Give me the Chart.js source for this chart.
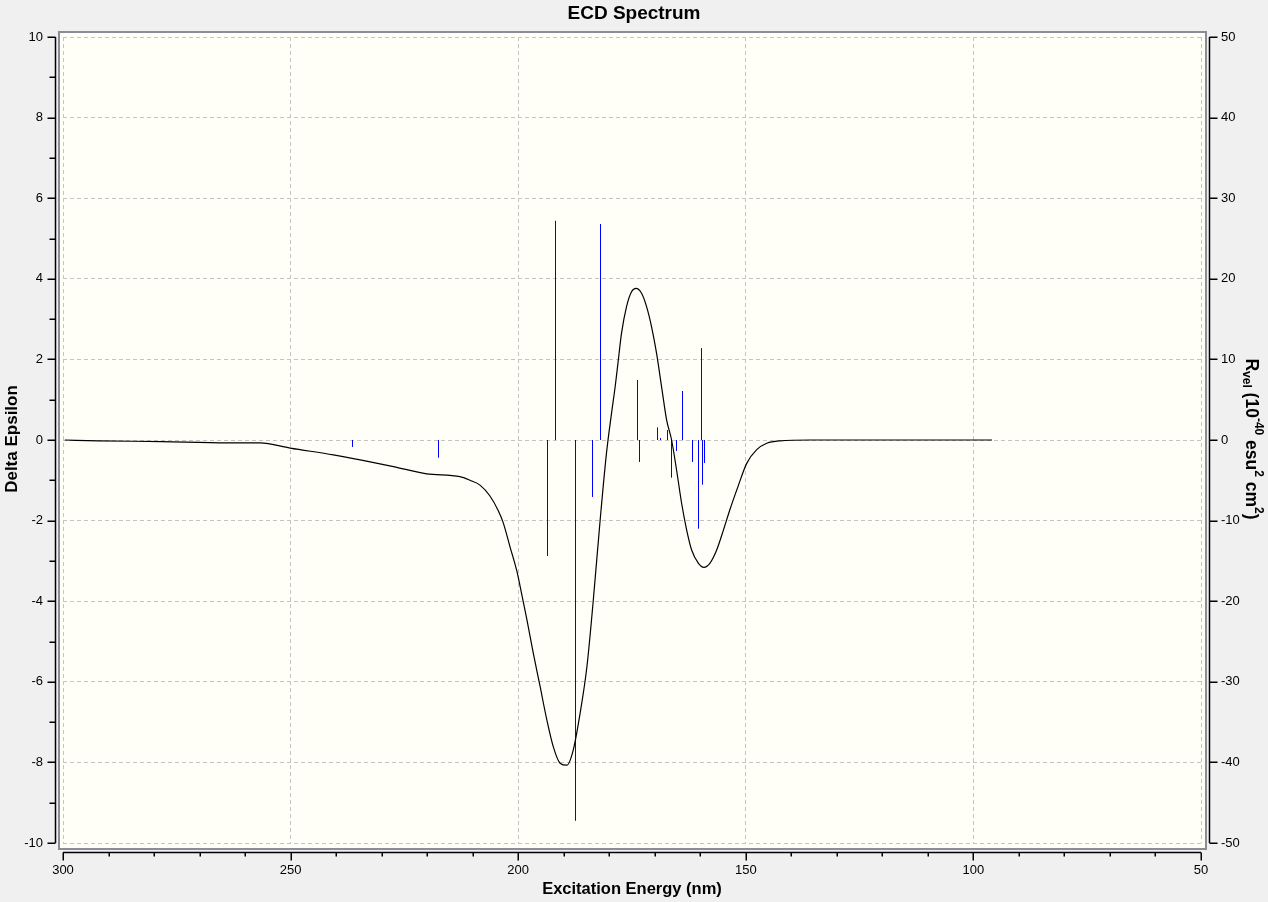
<!DOCTYPE html>
<html>
<head>
<meta charset="utf-8">
<script src="https://cdn.jsdelivr.net/npm/chart.js@4"></script>
<style>
html,body{margin:0;padding:0;background:#F0F0F0;}
canvas{display:block;}
</style>
</head>
<body>
<canvas id="c" width="1268" height="902"></canvas>
<script>
// ---- data ----
const curveNm = [95.9,135.9,142.5,145.4,147.6,149.8,151.7,153.5,154.9,156.4,157.9,159.2,160.4,161.9,163.0,164.1,165.2,166.3,167.4,168.5,169.6,170.7,171.8,172.9,174.1,175.1,176.2,177.3,178.0,178.7,179.5,180.6,182.0,183.5,184.9,186.4,187.9,189.3,190.8,192.3,193.7,195.2,196.7,198.1,199.6,200.3,201.8,203.3,204.4,206.2,208.4,210.6,212.8,220.1,227.4,236.2,240.6,250.1,256.7,264.0,278.3,292.2,299.6];
const curveEps = [0,0,-0.02,-0.08,-0.24,-0.58,-1.15,-1.73,-2.23,-2.73,-3.06,-3.16,-3.06,-2.73,-2.23,-1.57,-0.75,0,0.5,1.32,2.15,2.81,3.31,3.64,3.76,3.68,3.31,2.65,1.99,1.32,0.66,-0.32,-1.99,-3.97,-5.62,-6.78,-7.69,-8.07,-8.02,-7.61,-6.95,-6.11,-5.28,-4.45,-3.62,-3.25,-2.65,-2.05,-1.75,-1.39,-1.12,-1.0,-0.91,-0.84,-0.66,-0.46,-0.37,-0.2,-0.07,-0.07,-0.04,-0.02,0];
const stickNm = [236.5,217.6,193.6,191.9,187.5,183.7,182.0,173.9,173.4,169.3,168.8,167.3,166.4,165.3,163.8,161.8,160.5,159.8,159.6,159.1];
const stickR  = [-0.83,-2.15,-14.35,27.2,-47.2,-7.03,26.8,7.44,-2.69,1.57,0.25,1.24,-4.63,-1.32,6.08,-2.69,-10.96,11.4,-5.5,-2.81];
const xTicks = {min:50, max:300, step:50, minor:10};
const yTicks = {min:-10, max:10, step:2, minor:1};
const y2Ticks = {min:-50, max:50, step:10};
const titleText = 'ECD Spectrum';
const xTitle = 'Excitation Energy (nm)';
const yTitle = 'Delta Epsilon';

const FONT = "'Liberation Sans', Arial, sans-serif";

const curveData = curveNm.map((x,i)=>({x, y:curveEps[i]}));
const stickData = [];
stickNm.forEach((x,i)=>{ stickData.push({x,y:0},{x,y:stickR[i]},{x,y:null}); });

const frame = {
  id:'frame',
  afterDatasetsUpdate(chart){
    // snap stick x positions to pixel centres for crisp 1px lines
    const meta = chart.getDatasetMeta(1);
    meta.data.forEach(p=>{ if(!p.skip) p.x = Math.floor(p.x)+0.5; });
  },
  beforeDraw(chart){
    const {ctx, chartArea:a} = chart;
    ctx.save();
    ctx.fillStyle='#F0F0F0'; ctx.fillRect(0,0,chart.width,chart.height);
    ctx.fillStyle='#FFFFF7';
    ctx.fillRect(a.left-5, a.top-6, a.right-a.left+10, a.bottom-a.top+12);
    ctx.restore();
  },
  afterDraw(chart){
    const {ctx, chartArea:a, scales} = chart;
    const sx=scales.x, sy=scales.y, sy2=scales.y2;
    ctx.save();
    // frame border
    ctx.strokeStyle='#8a8d96'; ctx.lineWidth=2;
    ctx.strokeRect(a.left-4, a.top-5, (a.right+5)-(a.left-4), (a.bottom+6)-(a.top-5));
    ctx.strokeStyle='#000'; ctx.lineWidth=1.5;
    // left axis
    const lx = a.left-7.5;
    ctx.beginPath(); ctx.moveTo(lx, sy.getPixelForValue(yTicks.max)); ctx.lineTo(lx, sy.getPixelForValue(yTicks.min)); ctx.stroke();
    for(let v=yTicks.min; v<=yTicks.max+1e-9; v+=yTicks.minor){
      const p=Math.round(sy.getPixelForValue(v))+0.25;
      const major = Math.abs(v % yTicks.step) < 1e-9;
      ctx.beginPath(); ctx.moveTo(lx, p); ctx.lineTo(lx-(major?8:6), p); ctx.stroke();
    }
    // right axis
    const rx = a.right+8.5;
    ctx.beginPath(); ctx.moveTo(rx, sy2.getPixelForValue(y2Ticks.max)); ctx.lineTo(rx, sy2.getPixelForValue(y2Ticks.min)); ctx.stroke();
    for(let v=y2Ticks.min; v<=y2Ticks.max+1e-9; v+=y2Ticks.step){
      const p=Math.round(sy2.getPixelForValue(v))+0.25;
      ctx.beginPath(); ctx.moveTo(rx, p); ctx.lineTo(rx+8, p); ctx.stroke();
    }
    // bottom axis
    const by = a.bottom+9.5;
    ctx.beginPath(); ctx.moveTo(sx.getPixelForValue(xTicks.max), by); ctx.lineTo(sx.getPixelForValue(xTicks.min), by); ctx.stroke();
    for(let v=xTicks.min; v<=xTicks.max+1e-9; v+=xTicks.minor){
      const p=Math.round(sx.getPixelForValue(v))+0.25;
      const major = Math.abs(v % xTicks.step) < 1e-9;
      ctx.beginPath(); ctx.moveTo(p, by); ctx.lineTo(p, by+(major?8:4)); ctx.stroke();
    }
    // titles
    ctx.fillStyle='#000';
    ctx.textAlign='center'; ctx.textBaseline='middle';
    ctx.font='bold 19px '+FONT;
    ctx.fillText(titleText, 634, 14);
    ctx.font='bold 16.5px '+FONT;
    ctx.fillText(xTitle, 632, 889);
    ctx.save();
    ctx.font='bold 17px '+FONT;
    ctx.translate(12, 439); ctx.rotate(-Math.PI/2);
    ctx.fillText(yTitle, 0, 0);
    ctx.restore();
    // right title with sub/superscripts
    const segs = [['R','m'],['vel','sub'],[' (10','m'],['-40','sup'],[' esu','m'],['2','sup'],[' cm','m'],['2','sup'],[')','m']];
    const fMain='bold 17.5px '+FONT, fSmall='bold 12px '+FONT;
    let total=0;
    segs.forEach(s=>{ ctx.font = s[1]==='m'?fMain:fSmall; total+=ctx.measureText(s[0]).width; });
    ctx.save();
    ctx.translate(1251, 439); ctx.rotate(Math.PI/2);
    ctx.textAlign='left'; ctx.textBaseline='middle';
    let cx=-total/2;
    segs.forEach(s=>{
      ctx.font = s[1]==='m'?fMain:fSmall;
      const dy = s[1]==='sub'?5:(s[1]==='sup'?-7:0);
      ctx.fillText(s[0], cx, dy);
      cx += ctx.measureText(s[0]).width;
    });
    ctx.restore();
    ctx.restore();
  }
};

new Chart(document.getElementById('c'), {
  type:'line',
  data:{datasets:[
    {data:curveData, borderColor:'#000', borderWidth:1.2, pointRadius:0, cubicInterpolationMode:'monotone', yAxisID:'y', xAxisID:'x', order:1},
    {data:stickData, borderColor:'#0000FF', borderWidth:1, pointRadius:0, spanGaps:false, yAxisID:'y2', xAxisID:'x', order:2}
  ]},
  options:{
    responsive:false, animation:false, devicePixelRatio:1,
    layout:{padding:{top:37,left:0,right:0,bottom:0}},
    plugins:{legend:{display:false}, tooltip:{enabled:false}, title:{display:false}},
    scales:{
      x:{type:'linear', position:'bottom', reverse:true, min:xTicks.min, max:xTicks.max,
         afterFit(s){ s.height=59; },
         ticks:{stepSize:xTicks.step, color:'#000', font:{family:FONT, size:13}, padding:20, maxRotation:0},
         grid:{color:'#c4c4c4', drawTicks:false, lineWidth:1},
         border:{display:false, dash:[4,3]}},
      y:{type:'linear', position:'left', min:yTicks.min, max:yTicks.max,
         afterFit(s){ s.width=63; },
         ticks:{stepSize:yTicks.step, color:'#000', font:{family:FONT, size:13}, padding:20},
         grid:{color:'#c4c4c4', drawTicks:false, lineWidth:1},
         border:{display:false, dash:[4,3]}},
      y2:{type:'linear', position:'right', min:y2Ticks.min, max:y2Ticks.max,
         afterFit(s){ s.width=67; },
         ticks:{stepSize:y2Ticks.step, color:'#000', font:{family:FONT, size:13}, padding:20},
         grid:{drawOnChartArea:false, drawTicks:false},
         border:{display:false}}
    }
  },
  plugins:[frame]
});
</script>
</body>
</html>
